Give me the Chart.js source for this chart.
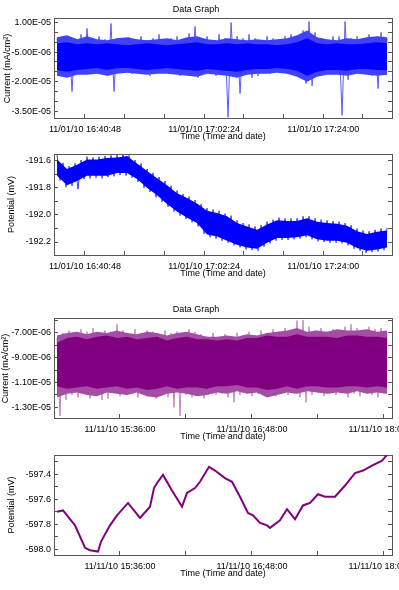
<!DOCTYPE html>
<html>
<head>
<meta charset="utf-8">
<script src="https://cdn.jsdelivr.net/npm/chart.js@4/dist/chart.umd.min.js"></script>
<style>
  body { margin: 0; background: #fff; }
  #wrap { position: relative; width: 399px; height: 590px; overflow: hidden; }
  canvas { position: absolute; left: 0; }
</style>
</head>
<body>
<div id="wrap">
  <canvas id="c1" width="399" height="142" style="top:0px;width:399px;height:142px"></canvas>
  <canvas id="c2" width="399" height="137" style="top:142px;width:399px;height:137px"></canvas>
  <canvas id="c3" width="399" height="163" style="top:279px;width:399px;height:163px"></canvas>
  <canvas id="c4" width="399" height="137" style="top:442px;width:399px;height:137px"></canvas>
</div>
<script>
// ---- dates / tick labels ----
const date1 = '11/01/10';
const date2 = '11/11/10';
const timeLabels1 = ['16:40:48', '17:02:24', '17:24:00'];
const timeLabels2 = ['15:36:00', '16:48:00', '18:00:00'];
const curTicks1 = [1e-5, -5e-6, -2e-5, -3.5e-5];
const potTicks1 = [-191.6, -191.8, -192.0, -192.2];
const curTicks2 = [-7e-6, -9e-6, -1.1e-5, -1.3e-5];
const potTicks2 = [-597.4, -597.6, -597.8, -598.0];

// dense records: first sample time and sample spacing (s)
const rec1Start = '16:35:44';
const band1Step = 108.8;
const spike1Step = 32.64;
const rec2Start = '15:01:38';
const band2Step = 327.3;
const spike2Step = 98.18;

// current 11/01/10, in 1e-6 mA/cm2: outer envelope, dense core, spikes
const cur1OutHi = [2.5, 3.5, 1.5, 3, 1.5, 1, 2, 2.5, 1.5, 1, 1.5, 2, 1, 2.5, 3, 1.5, 1,
  2, 1.5, 1, 1.5, 1, 1.5, 2, 3.5, 6, 2.5, 1.5, 1, 2, 1.5, 2.5, 3, 2.5];
const cur1OutLo = [-17, -18, -16.5, -16.5, -16, -17, -16, -15.5, -16, -16.5, -16, -16, -16.5, -17, -17.5, -16, -16.5,
  -17, -18, -16.5, -16, -16, -15.5, -16, -17.5, -20, -17.5, -16.5, -16.5, -17, -16, -16.5, -17, -16.5];
const cur1Hi = [-0.5, 0, -1, -0.5, -1, -0.5, -1, -1.5, -1, -0.5, -1, -1.5, -1, -0.5, 0, -1, -1,
  -0.5, -1, -0.5, -1, -1, -1.5, -1, 0, 2, -0.5, -1, -0.5, -1, -1, -0.5, 0, -0.5];
const cur1Lo = [-14, -15, -14, -13.5, -13, -14, -13, -13, -13.5, -14, -13.5, -13, -13.5, -14, -14.5, -13.5, -14,
  -14.5, -15, -14, -13.5, -13.5, -13, -13.5, -14.5, -17, -15, -14, -14, -14.5, -13.5, -13.5, -14, -14];
const cur1Spk = [2, -17, 3, -16, 1, -25, 2, -15, 4, -16,
  7, -15, 2, -14, 3, -15, 1.5, -17, 9.5, -25,
  2, -15, 1, -14, 2.5, -16, 1, -15, 3, -14,
  1, -17, 2, -16, 4, -15, 1, -14, 2, -15,
  3, -17, 1, -16, 4.5, -15, 8, -18, 2, -16,
  3, -15, 1, -17, 4, -16, 2, -38, 10, -17,
  3, -26, 2, -15, 4, -18, 2, -17, 1, -15,
  3, -16, 2, -15, 1, -14, 3, -16, 4, -15,
  2, -17, 6, -21, 10.5, -22, 5, -17, 2, -15,
  1, -14, 3, -16, 3, -37, 10.5, -19, 2, -15,
  3, -16, 2, -15, 4, -17, 2, -23.5, 5, -16,
  2];

// potential 11/01/10, mV (band top / bottom, edge spikes)
const pot1Hi = [-191.59, -191.66, -191.63, -191.59, -191.59, -191.58, -191.575, -191.565, -191.62, -191.675,
  -191.73, -191.78, -191.84, -191.875, -191.915, -191.97, -191.985, -192.01, -192.06, -192.085,
  -192.11, -192.07, -192.04, -192.045, -192.045, -192.025, -192.05, -192.06, -192.065, -192.08,
  -192.12, -192.14, -192.125, -192.115];
const pot1Lo = [-191.71, -191.78, -191.75, -191.71, -191.71, -191.71, -191.69, -191.69, -191.735, -191.80,
  -191.855, -191.92, -191.975, -192.02, -192.06, -192.145, -192.16, -192.19, -192.22, -192.24,
  -192.25, -192.205, -192.17, -192.17, -192.165, -192.15, -192.18, -192.19, -192.19, -192.205,
  -192.245, -192.265, -192.255, -192.24];
const pot1Spk = [-191.555, -191.745, -191.615, -191.795, -191.64, -191.785, -191.62, -191.81, -191.595, -191.735,
  -191.57, -191.73, -191.575, -191.725, -191.57, -191.73, -191.565, -191.72, -191.56, -191.715,
  -191.555, -191.705, -191.55, -191.71, -191.56, -191.725, -191.595, -191.755, -191.62, -191.80,
  -191.66, -191.83, -191.69, -191.87, -191.72, -191.905, -191.75, -191.94, -191.785, -191.975,
  -191.82, -192.005, -191.845, -192.03, -191.865, -192.055, -191.89, -192.085, -191.92, -192.14,
  -191.95, -192.165, -191.96, -192.175, -191.97, -192.19, -191.99, -192.205, -192.005, -192.225,
  -192.04, -192.24, -192.06, -192.255, -192.07, -192.26, -192.085, -192.265, -192.075, -192.235,
  -192.05, -192.21, -192.035, -192.19, -192.02, -192.185, -192.025, -192.185, -192.025, -192.18,
  -192.025, -192.175, -192.01, -192.165, -192.01, -192.18, -192.025, -192.195, -192.035, -192.2,
  -192.04, -192.205, -192.045, -192.205, -192.05, -192.21, -192.06, -192.225, -192.075, -192.25,
  -192.10, -192.265, -192.115, -192.28, -192.12, -192.275, -192.11, -192.27, -192.10, -192.26,
  -192.095];

// current 11/11/10, in 1e-6 mA/cm2
const cur2OutHi = [-7.2, -7.0, -6.9, -7.1, -6.9, -7.0, -6.8, -7.0, -7.1, -6.9, -7.0, -7.2, -7.0, -6.9, -7.1, -7.3, -7.3,
  -7.2, -7.3, -7.1, -7.2, -7.0, -6.9, -6.8, -6.6, -6.9, -6.8, -6.9, -6.7, -6.8, -6.8, -6.7, -6.9, -6.8];
const cur2OutLo = [-12.2, -11.9, -11.8, -12.0, -12.1, -11.8, -11.9, -12.0, -11.8, -12.1, -12.2, -11.9, -11.8, -11.9, -12.1, -12.0, -11.8,
  -11.9, -11.7, -11.9, -11.8, -12.2, -12.0, -11.8, -11.9, -11.7, -11.8, -11.9, -11.8, -11.9, -11.7, -11.9, -11.8, -11.9];
const cur2Hi = [-7.8, -7.4, -7.3, -7.5, -7.3, -7.2, -7.4, -7.3, -7.5, -7.4, -7.3, -7.6, -7.4, -7.3, -7.5, -7.5, -7.6,
  -7.5, -7.6, -7.4, -7.4, -7.2, -7.3, -7.3, -7.1, -7.3, -7.3, -7.3, -7.4, -7.2, -7.2, -7.3, -7.3, -7.4];
const cur2Lo = [-11.3, -11.5, -11.4, -11.3, -11.5, -11.4, -11.3, -11.5, -11.4, -11.6, -11.5, -11.3, -11.5, -11.4, -11.4, -11.5, -11.3,
  -11.3, -11.2, -11.4, -11.4, -11.6, -11.5, -11.3, -11.5, -11.3, -11.3, -11.4, -11.4, -11.3, -11.3, -11.4, -11.3, -11.4];
const cur2Spk = [-7.4, -13.7, -7.0, -12.4, -6.8, -12.0, -7.1, -12.2, -6.7, -11.9,
  -6.9, -12.3, -6.6, -12.0, -7.0, -12.4, -6.8, -12.3, -6.9, -11.8,
  -6.3, -12.1, -6.8, -12.0, -7.1, -11.9, -6.7, -12.2, -7.0, -11.8,
  -6.8, -12.1, -6.9, -12.3, -7.2, -11.9, -6.8, -12.2, -7.0, -13.0,
  -6.9, -13.7, -7.1, -12.0, -6.7, -12.2, -6.9, -11.9, -7.1, -12.3,
  -7.3, -11.8, -7.0, -12.0, -7.4, -11.9, -7.1, -12.2, -7.3, -12.6,
  -7.0, -12.0, -7.2, -11.8, -6.9, -12.1, -7.2, -11.9, -6.8, -12.0,
  -7.0, -11.7, -6.7, -12.1, -6.9, -11.8, -6.6, -12.0, -6.8, -11.9,
  -6.0, -12.2, -5.95, -12.6, -6.5, -12.0, -6.8, -11.8, -6.6, -12.1,
  -6.9, -11.9, -6.7, -12.0, -6.8, -11.8, -6.5, -12.2, -6.3, -11.9,
  -6.6, -12.1, -6.8, -11.8, -6.5, -12.0, -6.7, -12.2, -6.6, -11.9,
  -6.9];

// potential 11/11/10, mV
const pot2Times = ['15:01:38', '15:04:55', '15:07:05', '15:11:27', '15:16:55', '15:19:38', '15:24:00', '15:25:38', '15:30:33', '15:34:22',
  '15:40:22', '15:46:55', '15:52:22', '15:54:33', '15:56:11', '15:59:27', '16:04:22', '16:09:49', '16:12:33', '16:16:55',
  '16:19:38', '16:24:33', '16:27:49', '16:33:16', '16:37:05', '16:41:27', '16:45:49', '16:48:33', '16:52:22', '16:56:11',
  '16:57:49', '17:03:16', '17:07:05', '17:11:27', '17:15:49', '17:19:38', '17:24:00', '17:27:49', '17:33:16', '17:38:44',
  '17:44:11', '17:48:33', '17:53:27', '17:58:55', '18:01:38'];
const pot2Vals = [-597.70, -597.69, -597.73, -597.81, -597.99, -598.01, -598.02, -597.94, -597.81, -597.73,
  -597.63, -597.75, -597.66, -597.51, -597.47, -597.405, -597.53, -597.66, -597.55, -597.51,
  -597.46, -597.34, -597.37, -597.43, -597.46, -597.58, -597.71, -597.73, -597.79, -597.81,
  -597.83, -597.77, -597.68, -597.76, -597.65, -597.63, -597.56, -597.58, -597.58, -597.49,
  -597.39, -597.37, -597.33, -597.29, -597.245];

const E6 = 1e-6;

function toSec(s) {
  const p = s.split(':').map(Number);
  return p[0] * 3600 + p[1] * 60 + p[2];
}
function sampled(start, step, vals, scale) {
  const t0 = toSec(start);
  return vals.map((v, i) => ({ x: t0 + i * step, y: v * scale }));
}
function sci(v) {
  const parts = v.toExponential(2).split('e');
  const n = parseInt(parts[1], 10);
  return parts[0] + 'E' + (n < 0 ? '-' : '+') + String(Math.abs(n)).padStart(2, '0');
}
function fmtTime(v) {
  const s = Math.round(v);
  const h = Math.floor(s / 3600), m = Math.floor(s / 60) % 60, ss = s % 60;
  return [h, m, ss].map(n => String(n).padStart(2, '0')).join(':');
}
function stepTicks(min, max, step) {
  const out = [];
  for (let k = Math.ceil(min / step - 1e-6); k * step <= max + step * 1e-6; k++) {
    out.push({ value: +(k * step).toPrecision(12) });
  }
  return out;
}
function isOneOf(v, list, step) {
  return list.some(l => Math.abs(l - v) < step / 100);
}

Chart.defaults.font.family = '"Liberation Sans", Arial, sans-serif';
Chart.defaults.font.size = 9;
Chart.defaults.color = '#000';

function makeChart(id, o) {
  const xLab = o.xLabels.map(toSec);
  const yT = o.yLabels;
  return new Chart(document.getElementById(id), {
    type: 'line',
    data: { datasets: o.datasets },
    options: {
      responsive: false,
      animation: false,
      events: [],
      layout: { padding: { top: o.padTop, right: 7, bottom: 0, left: 0 } },
      plugins: {
        legend: { display: false },
        tooltip: { enabled: false },
        title: {
          display: !!o.title, text: o.title || '', color: '#000',
          font: { size: 9, weight: 'normal' }, padding: { top: 4, bottom: 4 }
        }
      },
      scales: {
        x: {
          type: 'linear', position: 'bottom', min: o.xMin, max: o.xMax,
          afterBuildTicks: a => { a.ticks = stepTicks(o.xMin, o.xMax, o.xStep); },
          afterFit: s => { s.height = 24; s.paddingLeft = 0; s.paddingRight = 0; },
          grid: { drawOnChartArea: false, tickLength: -4, color: '#555' },
          border: { color: '#555' },
          ticks: {
            autoSkip: false, maxRotation: 0, padding: 10, color: '#000',
            callback: v => isOneOf(v, xLab, o.xStep) ? o.date + ' ' + fmtTime(v) : ''
          },
          title: { display: true, text: 'Time (Time and date)', color: '#000', padding: { top: 0, bottom: 0 } }
        },
        xTop: {
          type: 'linear', position: 'top', min: o.xMin, max: o.xMax,
          grid: { drawOnChartArea: false, drawTicks: false },
          border: { color: '#555' },
          ticks: { display: false }
        },
        y: {
          position: 'left', min: o.yMin, max: o.yMax,
          afterBuildTicks: a => { a.ticks = stepTicks(o.yMin, o.yMax, o.yStep); },
          afterFit: s => { s.width = 54; s.paddingTop = 0; s.paddingBottom = 0; },
          grid: { drawOnChartArea: false, tickLength: -4, color: '#555' },
          border: { color: '#555' },
          ticks: {
            autoSkip: false, padding: 7, color: '#000',
            callback: v => isOneOf(v, yT, o.yStep) ? o.yFmt(v) : ''
          },
          title: { display: true, text: o.yTitle, color: '#000', padding: { top: o.yTitlePad, bottom: 0 } }
        },
        yRight: {
          position: 'right', min: o.yMin, max: o.yMax,
          afterBuildTicks: a => { a.ticks = stepTicks(o.yMin, o.yMax, o.yStep); },
          afterFit: s => { s.width = 0; s.paddingTop = 0; s.paddingBottom = 0; },
          grid: { drawOnChartArea: false, tickLength: -4, color: '#555' },
          border: { color: '#555' },
          ticks: { display: false }
        }
      }
    }
  });
}

// dense core (solid), outer envelope (light), thin spikes underneath
function noisySets(outHi, outLo, hi, lo, spk, core, light, spkColor) {
  return [
    { data: hi, borderWidth: 0, pointRadius: 0, backgroundColor: core, fill: '+1' },
    { data: lo, borderWidth: 0, pointRadius: 0, fill: false },
    { data: outHi, borderWidth: 0, pointRadius: 0, backgroundColor: light, fill: '+1' },
    { data: outLo, borderWidth: 0, pointRadius: 0, fill: false },
    { data: spk, borderWidth: 1, borderColor: spkColor, pointRadius: 0, fill: false }
  ];
}

// 1) current, 11/01/10
makeChart('c1', {
  title: 'Data Graph', padTop: 0, date: date1,
  xMin: toSec('16:35:11'), xMax: toSec('17:36:28'), xStep: 432, xLabels: timeLabels1,
  yMin: -3.84e-5, yMax: 1.19e-5, yStep: 5e-6, yLabels: curTicks1, yFmt: sci,
  yTitle: 'Current (mA/cm\u00b2)', yTitlePad: 2,
  datasets: noisySets(
    sampled(rec1Start, band1Step, cur1OutHi, E6),
    sampled(rec1Start, band1Step, cur1OutLo, E6),
    sampled(rec1Start, band1Step, cur1Hi, E6),
    sampled(rec1Start, band1Step, cur1Lo, E6),
    sampled(rec1Start, spike1Step, cur1Spk, E6),
    '#0000ff', '#4040ff', '#5a5aff')
});

// 2) potential, 11/01/10
makeChart('c2', {
  title: '', padTop: 12, date: date1,
  xMin: toSec('16:35:11'), xMax: toSec('17:36:28'), xStep: 432, xLabels: timeLabels1,
  yMin: -192.296, yMax: -191.55, yStep: 0.1, yLabels: potTicks1, yFmt: v => v.toFixed(1),
  yTitle: 'Potential (mV)', yTitlePad: 6,
  datasets: [
    { data: sampled(rec1Start, band1Step, pot1Hi, 1), borderWidth: 0, pointRadius: 0,
      backgroundColor: '#0000ff', fill: '+1' },
    { data: sampled(rec1Start, band1Step, pot1Lo, 1), borderWidth: 0, pointRadius: 0, fill: false },
    { data: sampled(rec1Start, spike1Step, pot1Spk, 1), borderWidth: 1, borderColor: '#3c3cff',
      pointRadius: 0, fill: false }
  ]
});

// 3) current, 11/11/10
makeChart('c3', {
  title: 'Data Graph', padTop: 21, date: date2,
  xMin: toSec('15:00:00'), xMax: toSec('18:04:22'), xStep: 2160, xLabels: timeLabels2,
  yMin: -1.386e-5, yMax: -5.86e-6, yStep: 1e-6, yLabels: curTicks2, yFmt: sci,
  yTitle: 'Current (mA/cm\u00b2)', yTitlePad: 0,
  datasets: noisySets(
    sampled(rec2Start, band2Step, cur2OutHi, E6),
    sampled(rec2Start, band2Step, cur2OutLo, E6),
    sampled(rec2Start, band2Step, cur2Hi, E6),
    sampled(rec2Start, band2Step, cur2Lo, E6),
    sampled(rec2Start, spike2Step, cur2Spk, E6),
    '#800080', '#a54ca5', '#c282c2')
});

// 4) potential, 11/11/10
makeChart('c4', {
  title: '', padTop: 13, date: date2,
  xMin: toSec('15:00:00'), xMax: toSec('18:04:22'), xStep: 2160, xLabels: timeLabels2,
  yMin: -598.048, yMax: -597.245, yStep: 0.1, yLabels: potTicks2, yFmt: v => v.toFixed(1),
  yTitle: 'Potential (mV)', yTitlePad: 6,
  datasets: [
    { data: pot2Times.map((t, i) => ({ x: toSec(t), y: pot2Vals[i] })),
      borderColor: '#800080', borderWidth: 2, pointRadius: 0, fill: false }
  ]
});
</script>
</body>
</html>
